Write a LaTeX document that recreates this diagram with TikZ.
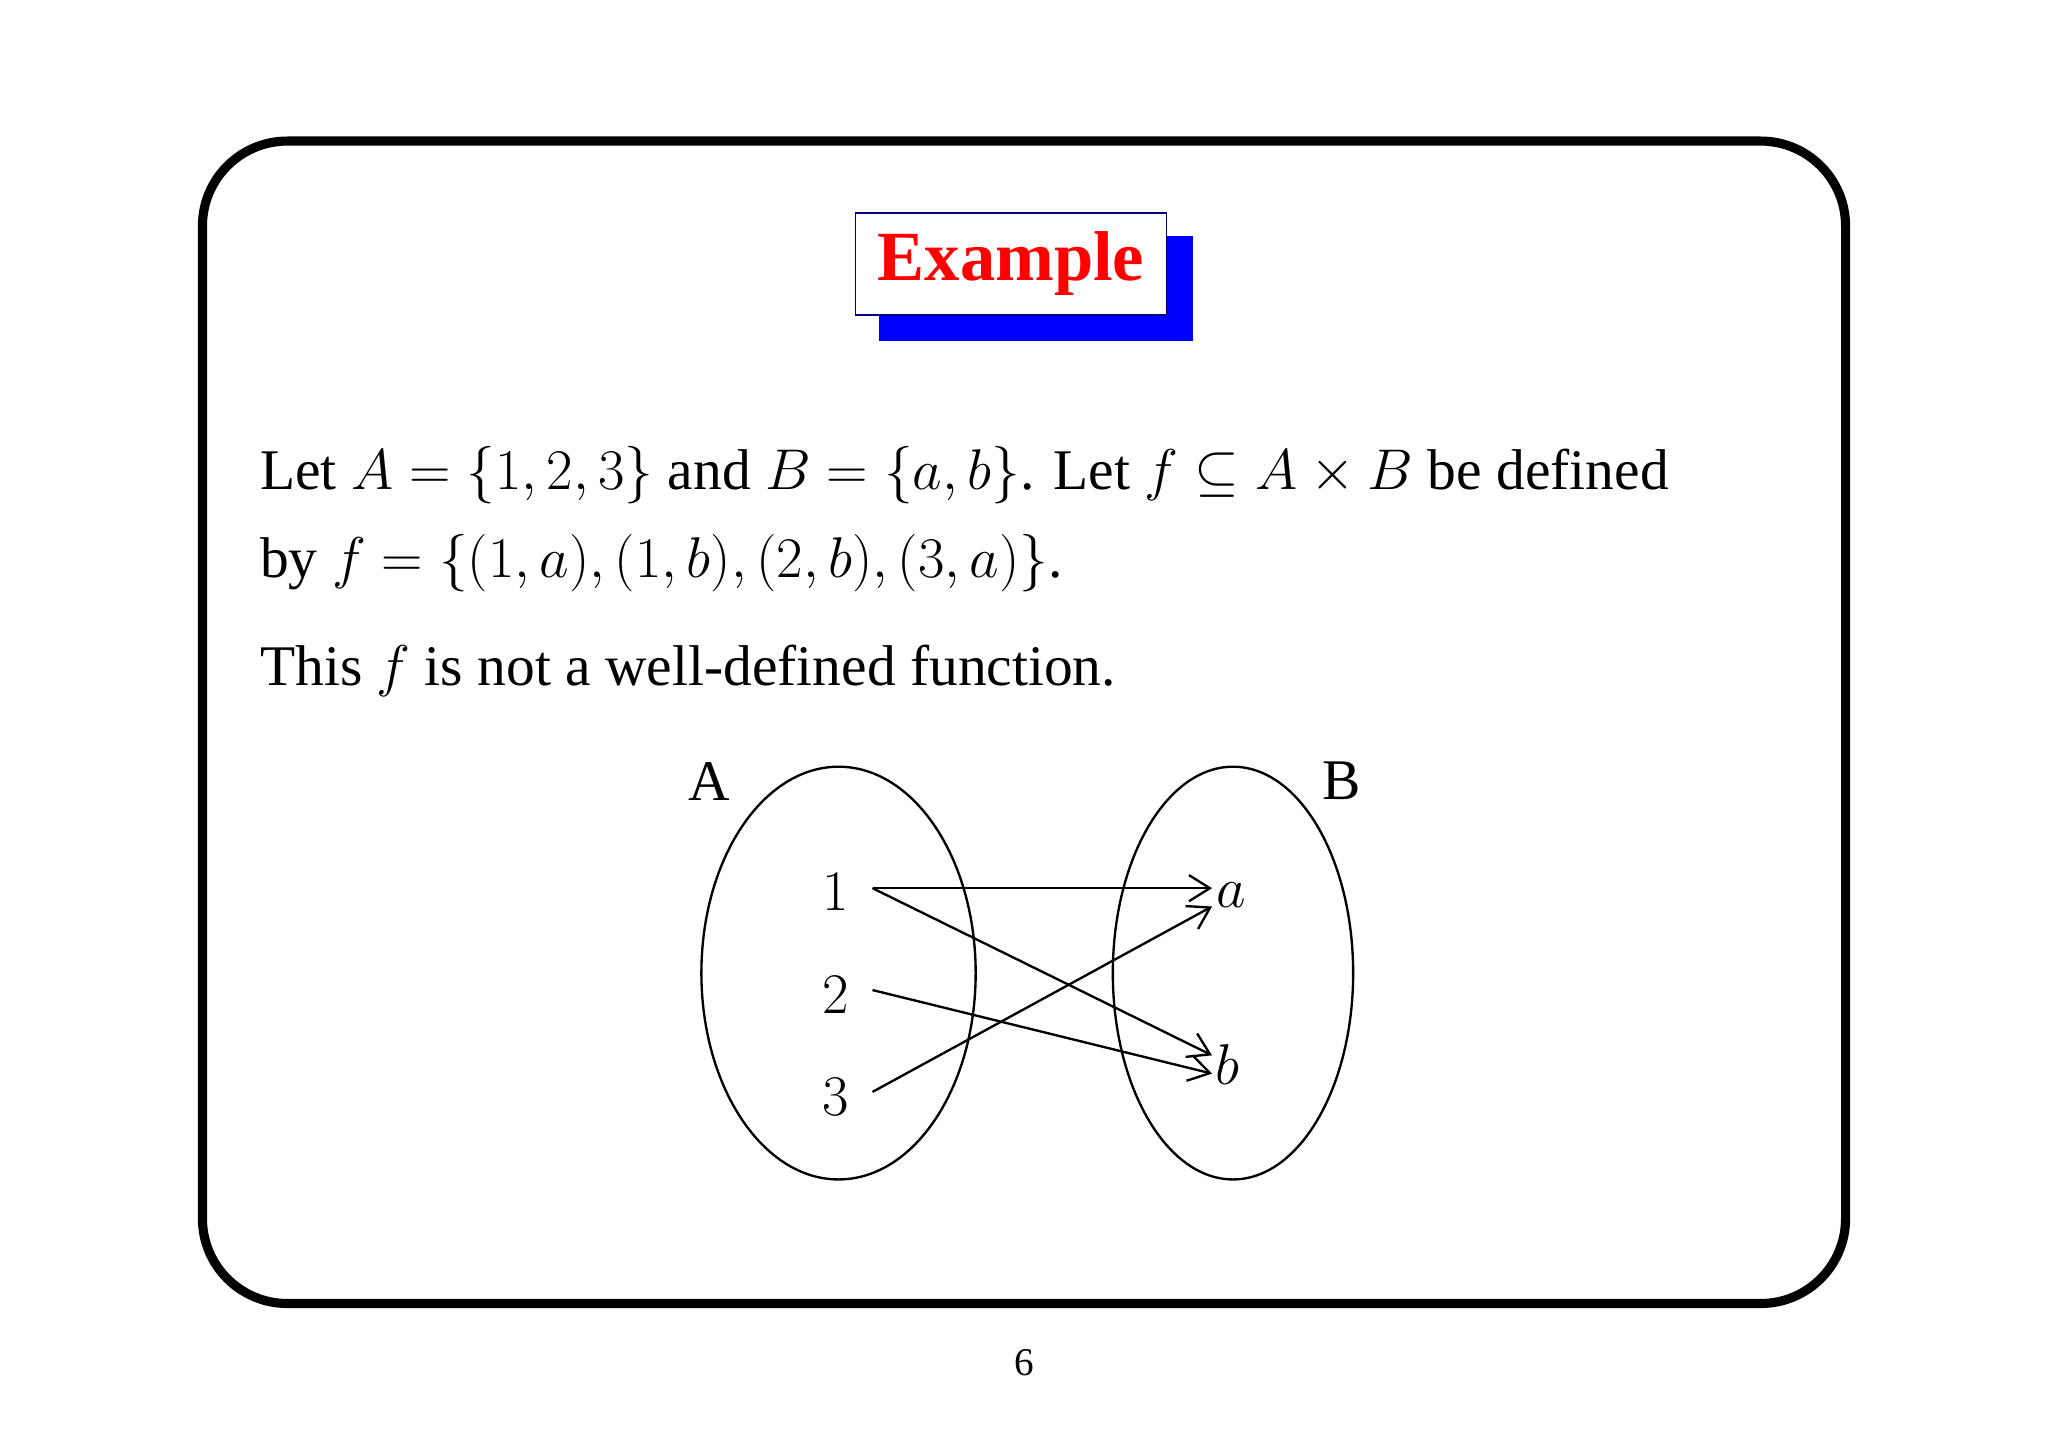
\documentclass[tikz,border=0pt]{standalone}
\usepackage{fix-cm}
\usepackage{amssymb}
\usepackage{fontspec}
\setmainfont{Liberation Serif}
\usetikzlibrary{arrows.meta}
\begin{document}
\begin{tikzpicture}[x=1pt,y=-1pt,
  txt/.style={anchor=base west,inner sep=0,font=\fontsize{44}{52}\selectfont},
  elt/.style={inner sep=0,font=\fontsize{44}{52}\selectfont},
  arr/.style={line width=1.8pt,-{Straight Barb[length=16pt,width=20pt,line width=1.8pt]}}]
\useasboundingbox (0,0) rectangle (1568,1108);
\draw[line width=7pt,rounded corners=65pt] (155,108) rectangle (1413,998);
\fill[blue] (673,181) rectangle (913,261);
\node[draw=blue!50!black,line width=1.2pt,fill=white,minimum width=238pt,minimum height=78pt,inner sep=0] (title) at (774,202)
  {\fontsize{54}{60}\selectfont\bfseries\color{red}Example};
\node[txt] (l1) at (199,375) {Let $A=\{1,2,3\}$ and $B=\{a,b\}$. Let $f\subseteq A\times B$ be defined};
\node[txt] (l2) at (199,442) {by $f=\{(1,a),(1,b),(2,b),(3,a)\}$.};
\node[txt] (l3) at (199,525) {This $f$ is not a well-defined function.};
\draw[line width=1.8pt] (642,745) ellipse (105 and 158);
\draw[line width=1.8pt] (944,745) ellipse (92 and 158);
\node[elt] (LA) at (543,598) {A};
\node[elt] (LB) at (1027,598) {B};
\node[elt] (n1) at (640,683) {$1$};
\node[elt] (n2) at (640,762) {$2$};
\node[elt] (n3) at (640,840) {$3$};
\node[elt] (na) at (943,685) {$a$};
\node[elt] (nb) at (940,815) {$b$};
\coordinate (s1) at (668,680);
\coordinate (s2) at (668,758);
\coordinate (s3) at (668,836);
\coordinate (ta) at (928,680);
\coordinate (ta2) at (928,694);
\coordinate (tb) at (928,808);
\coordinate (tb2) at (928,822);
\draw[arr] (s1) -- (ta);
\draw[arr] (s1) -- (tb);
\draw[arr] (s2) -- (tb2);
\draw[arr] (s3) -- (ta2);
\node[elt,font=\fontsize{30}{36}\selectfont] (pg) at (784,1043) {6};
\end{tikzpicture}
\end{document}
